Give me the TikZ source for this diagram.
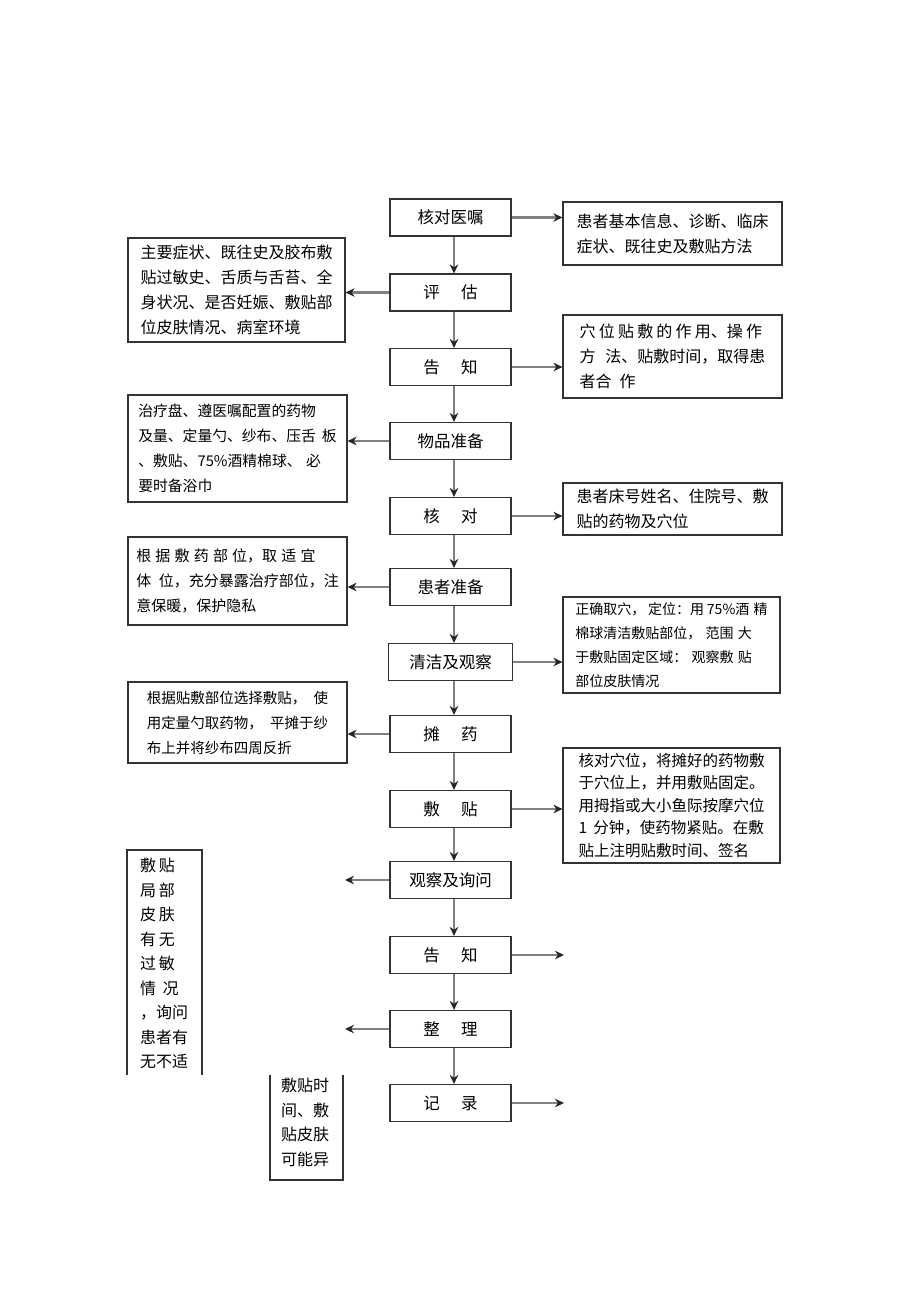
\documentclass[tikz,border=0pt]{standalone}
\usepackage{fontspec}
\setmainfont{Noto Sans CJK SC}
\usetikzlibrary{arrows.meta}
\tikzset{
  mainbox/.style={draw=black!80,line width=1.2pt,minimum width=121pt,minimum height=37pt,inner sep=0pt,font=\fontsize{16.5}{20}\selectfont},
  sidebox/.style={draw=black!80,line width=1.2pt,inner sep=0pt,align=left,font=\fontsize{16}{25}\selectfont},
  narrowtext/.style={inner sep=0pt,align=left,font=\fontsize{16}{24.5}\selectfont},
  openline/.style={draw=black!80,line width=1.2pt},
  arr/.style={draw=black!50,line width=2.3pt,-{Stealth[length=9pt,width=8.5pt,color=black!85]}}
}
\begin{document}
\begin{tikzpicture}[x=1pt,y=-1pt]
\useasboundingbox[fill=white] (0,0) rectangle (920,1301);
\coordinate (ax) at (454,0);
\coordinate (lx) at (345,0);
\coordinate (rx) at (564,0);
% main column
\node[mainbox] (m1) at (450.5,217.5) {核对医嘱};
\node[mainbox] (m2) at (450.5,292.5) {评\hspace{1.3em}估};
\node[mainbox] (m3) at (450.5,367) {告\hspace{1.3em}知};
\node[mainbox] (m4) at (450.5,441) {物品准备};
\node[mainbox] (m5) at (450.5,516) {核\hspace{1.3em}对};
\node[mainbox] (m6) at (450.5,587) {患者准备};
\node[mainbox,minimum width=124pt] (m7) at (450.5,662) {清洁及观察};
\node[mainbox] (m8) at (450.5,734) {摊\hspace{1.3em}药};
\node[mainbox] (m9) at (450.5,809) {敷\hspace{1.3em}贴};
\node[mainbox] (m10) at (450.5,880) {观察及询问};
\node[mainbox] (m11) at (450.5,955) {告\hspace{1.3em}知};
\node[mainbox] (m12) at (450.5,1029) {整\hspace{1.3em}理};
\node[mainbox] (m13) at (450.5,1103) {记\hspace{1.3em}录};
% side boxes
\node[sidebox,minimum width=219pt,minimum height=63pt] (r1) at (672.5,233.5)
  {患者基本信息、诊断、临床\\症状、既往史及敷贴方法};
\node[sidebox,minimum width=217pt,minimum height=104pt] (l1) at (236.5,290)
  {主要症状、既往史及胶布敷\\贴过敏史、舌质与舌苔、全\\身状况、是否妊娠、敷贴部\\位皮肤情况、病室环境};
\node[sidebox,minimum width=219pt,minimum height=83pt] (r2) at (672.5,356.5)
  {穴\hspace{0.2em}位\hspace{0.2em}贴\hspace{0.2em}敷\hspace{0.2em}的\hspace{0.2em}作\hspace{0.2em}用、操\hspace{0.2em}作\\方\hspace{0.6em}法、贴敷时间，取得患\\者合\hspace{0.5em}作};
\node[sidebox,minimum width=219pt,minimum height=107pt,font=\fontsize{14.8}{25}\selectfont] (l2) at (237.5,448.5)
  {治疗盘、遵医嘱配置的药物\\及量、定量勺、纱布、压舌\hspace{0.4em}板\\、敷贴、75\%酒精棉球、\hspace{0.3em}必\\要时备浴巾};
\node[sidebox,minimum width=219pt,minimum height=52pt] (r3) at (672.5,509)
  {患者床号姓名、住院号、敷\\贴的药物及穴位};
\node[sidebox,minimum width=219pt,minimum height=88pt,font=\fontsize{15}{25}\selectfont] (l3) at (237.5,581)
  {根\hspace{0.28em}据\hspace{0.28em}敷\hspace{0.28em}药\hspace{0.28em}部\hspace{0.28em}位，取\hspace{0.28em}适\hspace{0.28em}宜\\体\hspace{0.5em}位，充分暴露治疗部位，注\\意保暖，保护隐私};
\node[sidebox,minimum width=217pt,minimum height=96pt,font=\fontsize{14}{24}\selectfont] (r4) at (671.5,645)
  {正确取穴，\hspace{0.2em}定位：用\hspace{0.2em}75\%酒\hspace{0.3em}精\\棉球清洁敷贴部位，\hspace{0.3em}范围\hspace{0.3em}大\\于敷贴固定区域：\hspace{0.3em}观察敷\hspace{0.3em}贴\\部位皮肤情况};
\node[sidebox,minimum width=219pt,minimum height=81pt,font=\fontsize{14.5}{25}\selectfont] (l4) at (237.5,722.5)
  {根据贴敷部位选择敷贴，\hspace{0.5em}使\\用定量勺取药物，\hspace{0.5em}平摊于纱\\布上并将纱布四周反折};
\node[sidebox,minimum width=217pt,minimum height=115pt,font=\fontsize{15.5}{22.5}\selectfont] (r5) at (671.5,805.5)
  {核对穴位，将摊好的药物敷\\于穴位上，并用敷贴固定。\\用拇指或大小鱼际按摩穴位\\1\hspace{0.4em}分钟，使药物紧贴。在敷\\贴上注明贴敷时间、签名};
% open boxes at bottom left
\node[narrowtext,anchor=north west] (l5) at (140,858)
  {敷\,贴\\局\,部\\皮\,肤\\有\,无\\过\,敏\\情\hspace{0.4em}况\\，询问\\患者有\\无不适};
\coordinate (l5tl) at (127,850);
\coordinate (l5br) at (202,1075);
\draw[openline] (l5tl |- l5br) -- (l5tl) -- (l5tl -| l5br) -- (l5br);
\node[narrowtext,anchor=north west] (l6) at (281,1078)
  {敷贴时\\间、敷\\贴皮肤\\可能异};
\coordinate (l6tl) at (270,1075);
\coordinate (l6br) at (343,1180);
\draw[openline] (l6tl) -- (l6tl |- l6br) -- (l6br) -- (l6br |- l6tl);
% vertical arrows
\foreach \a/\b in {m1/m2,m2/m3,m3/m4,m4/m5,m5/m6,m6/m7,m7/m8,m8/m9,m9/m10,m10/m11,m11/m12,m12/m13}
  \draw[arr] (\a.south -| ax) -- (\b.north -| ax);
% horizontal arrows
\draw[arr] (m1.east) -- (m1.east -| r1.west);
\draw[arr] (m2.west) -- (m2.west -| l1.east);
\draw[arr] (m3.east) -- (m3.east -| r2.west);
\draw[arr] (m4.west) -- (m4.west -| l2.east);
\draw[arr] (m5.east) -- (m5.east -| r3.west);
\draw[arr] (m6.west) -- (m6.west -| l3.east);
\draw[arr] (m7.east) -- (m7.east -| r4.west);
\draw[arr] (m8.west) -- (m8.west -| l4.east);
\draw[arr] (m9.east) -- (m9.east -| r5.west);
\draw[arr] (m10.west) -- (m10.west -| lx);
\draw[arr] (m11.east) -- (m11.east -| rx);
\draw[arr] (m12.west) -- (m12.west -| lx);
\draw[arr] (m13.east) -- (m13.east -| rx);
\end{tikzpicture}
\end{document}
